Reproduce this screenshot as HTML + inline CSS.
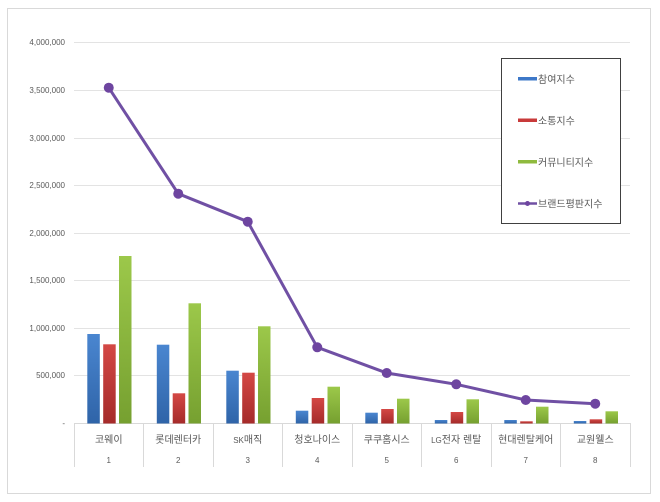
<!DOCTYPE html>
<html><head><meta charset="utf-8"><style>
html,body{margin:0;padding:0;background:#fff;}
svg{display:block;}
</style></head><body>
<svg width="660" height="502" viewBox="0 0 660 502" xmlns="http://www.w3.org/2000/svg">
<defs>
<linearGradient id="gb" x1="0" y1="0" x2="0" y2="1"><stop offset="0" stop-color="#4a86d0"/><stop offset="1" stop-color="#2f64a8"/></linearGradient>
<linearGradient id="gr" x1="0" y1="0" x2="0" y2="1"><stop offset="0" stop-color="#d44845"/><stop offset="1" stop-color="#a52b2a"/></linearGradient>
<linearGradient id="gg" x1="0" y1="0" x2="0" y2="1"><stop offset="0" stop-color="#9cc84a"/><stop offset="1" stop-color="#76a030"/></linearGradient>
</defs>
<rect x="7.5" y="8.5" width="643" height="485" fill="#fff" stroke="#d9d9d9" stroke-width="1"/>
<g stroke="#e3e3e3" stroke-width="1">
<line x1="74" y1="42.5" x2="630" y2="42.5"/>
<line x1="74" y1="90.5" x2="630" y2="90.5"/>
<line x1="74" y1="138.5" x2="630" y2="138.5"/>
<line x1="74" y1="185.5" x2="630" y2="185.5"/>
<line x1="74" y1="233.5" x2="630" y2="233.5"/>
<line x1="74" y1="280.5" x2="630" y2="280.5"/>
<line x1="74" y1="328.5" x2="630" y2="328.5"/>
<line x1="74" y1="375.5" x2="630" y2="375.5"/>
</g>
<g stroke="#d9d9d9" stroke-width="1">
<line x1="74" y1="423.5" x2="630" y2="423.5"/>
<line x1="74.5" y1="423" x2="74.5" y2="467"/>
<line x1="143.5" y1="423" x2="143.5" y2="467"/>
<line x1="213.5" y1="423" x2="213.5" y2="467"/>
<line x1="282.5" y1="423" x2="282.5" y2="467"/>
<line x1="352.5" y1="423" x2="352.5" y2="467"/>
<line x1="421.5" y1="423" x2="421.5" y2="467"/>
<line x1="491.5" y1="423" x2="491.5" y2="467"/>
<line x1="560.5" y1="423" x2="560.5" y2="467"/>
<line x1="630.5" y1="423" x2="630.5" y2="467"/>
</g>
<g font-family="Liberation Sans, sans-serif" font-size="8" fill="#595959" text-anchor="end">
<text x="65" y="45">4,000,000</text>
<text x="65" y="93">3,500,000</text>
<text x="65" y="141">3,000,000</text>
<text x="65" y="188">2,500,000</text>
<text x="65" y="236">2,000,000</text>
<text x="65" y="283">1,500,000</text>
<text x="65" y="331">1,000,000</text>
<text x="65" y="378">500,000</text>
<text x="65" y="426">-</text>
</g>
<!-- bars -->
<g>
<rect x="87.3" y="334" width="12.5" height="89.5" fill="url(#gb)"/>
<rect x="103.2" y="344.3" width="12.5" height="79.2" fill="url(#gr)"/>
<rect x="119" y="256" width="12.5" height="167.5" fill="url(#gg)"/>

<rect x="156.8" y="344.7" width="12.5" height="78.8" fill="url(#gb)"/>
<rect x="172.7" y="393.3" width="12.5" height="30.2" fill="url(#gr)"/>
<rect x="188.5" y="303.3" width="12.5" height="120.2" fill="url(#gg)"/>

<rect x="226.3" y="370.7" width="12.5" height="52.8" fill="url(#gb)"/>
<rect x="242.2" y="372.7" width="12.5" height="50.8" fill="url(#gr)"/>
<rect x="258" y="326.3" width="12.5" height="97.2" fill="url(#gg)"/>

<rect x="295.8" y="410.7" width="12.5" height="12.8" fill="url(#gb)"/>
<rect x="311.7" y="398" width="12.5" height="25.5" fill="url(#gr)"/>
<rect x="327.5" y="386.7" width="12.5" height="36.8" fill="url(#gg)"/>

<rect x="365.3" y="412.7" width="12.5" height="10.8" fill="url(#gb)"/>
<rect x="381.2" y="409" width="12.5" height="14.5" fill="url(#gr)"/>
<rect x="397" y="398.7" width="12.5" height="24.8" fill="url(#gg)"/>

<rect x="434.8" y="420" width="12.5" height="3.5" fill="url(#gb)"/>
<rect x="450.7" y="412" width="12.5" height="11.5" fill="url(#gr)"/>
<rect x="466.5" y="399.3" width="12.5" height="24.2" fill="url(#gg)"/>

<rect x="504.3" y="420" width="12.5" height="3.5" fill="url(#gb)"/>
<rect x="520.2" y="421.3" width="12.5" height="2.2" fill="url(#gr)"/>
<rect x="536" y="406.7" width="12.5" height="16.8" fill="url(#gg)"/>

<rect x="573.8" y="421" width="12.5" height="2.5" fill="url(#gb)"/>
<rect x="589.7" y="419.3" width="12.5" height="4.2" fill="url(#gr)"/>
<rect x="605.5" y="411.3" width="12.5" height="12.2" fill="url(#gg)"/>
</g>
<!-- line -->
<polyline points="108.75,87.7 178.25,193.7 247.75,221.7 317.25,347.3 386.75,373 456.25,384.3 525.75,400 595.25,403.7" fill="none" stroke="#7050a4" stroke-width="3" stroke-linejoin="round"/>
<g fill="#6e45a0">
<circle cx="108.75" cy="87.7" r="5"/>
<circle cx="178.25" cy="193.7" r="5"/>
<circle cx="247.75" cy="221.7" r="5"/>
<circle cx="317.25" cy="347.3" r="5"/>
<circle cx="386.75" cy="373" r="5"/>
<circle cx="456.25" cy="384.3" r="5"/>
<circle cx="525.75" cy="400" r="5"/>
<circle cx="595.25" cy="403.7" r="5"/>
</g>
<!-- category labels -->
<g font-family="Liberation Sans, 'Noto Sans CJK KR', sans-serif" font-size="10" fill="#595959" text-anchor="middle">
<text x="108.75" y="443">코웨이</text>
<text x="178.25" y="443">롯데렌터카</text>
<text x="247.75" y="443"><tspan font-size="8">SK</tspan>매직</text>
<text x="317.25" y="443">청호나이스</text>
<text x="386.75" y="443">쿠쿠홈시스</text>
<text x="456.25" y="443"><tspan font-size="8">LG</tspan>전자 렌탈</text>
<text x="525.75" y="443">현대렌탈케어</text>
<text x="595.25" y="443">교원웰스</text>
</g>
<g font-family="Liberation Sans, sans-serif" font-size="8" fill="#595959" text-anchor="middle">
<text x="108.75" y="463">1</text>
<text x="178.25" y="463">2</text>
<text x="247.75" y="463">3</text>
<text x="317.25" y="463">4</text>
<text x="386.75" y="463">5</text>
<text x="456.25" y="463">6</text>
<text x="525.75" y="463">7</text>
<text x="595.25" y="463">8</text>
</g>
<!-- legend -->
<rect x="501.5" y="58.5" width="119" height="165" fill="#fff" stroke="#404040" stroke-width="1"/>
<rect x="518" y="77" width="19" height="3.5" fill="#3d78c8"/>
<rect x="518" y="118.5" width="19" height="3.5" fill="#c83a3a"/>
<rect x="518" y="160" width="19" height="3.5" fill="#8fba3e"/>
<line x1="518" y1="203.5" x2="537" y2="203.5" stroke="#7050a4" stroke-width="2.5"/>
<circle cx="527.5" cy="203.5" r="2.5" fill="#6e45a0"/>
<g font-family="Liberation Sans, 'Noto Sans CJK KR', sans-serif" font-size="10" fill="#595959">
<text x="538" y="83">참여지수</text>
<text x="538" y="124.5">소통지수</text>
<text x="538" y="166">커뮤니티지수</text>
<text x="538" y="207.5">브랜드평판지수</text>
</g>
</svg>
</body></html>
